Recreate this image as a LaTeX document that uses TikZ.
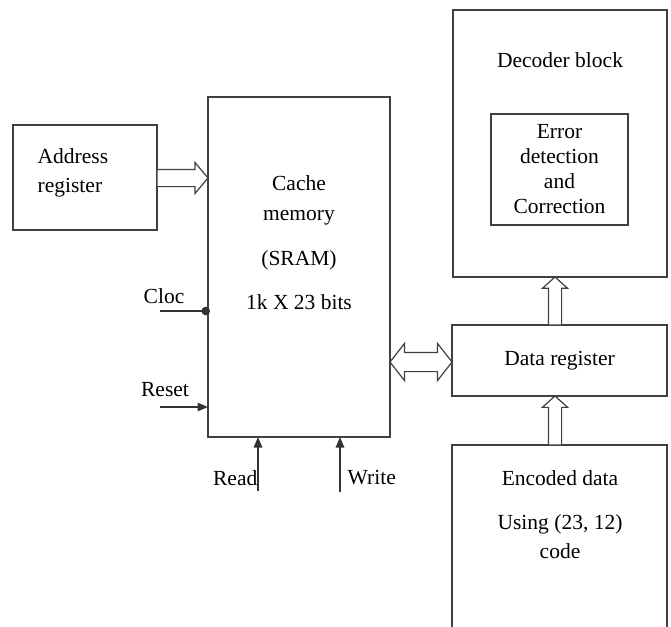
\documentclass[tikz,border=0pt]{standalone}
\usepackage{fontspec}
\setmainfont{Liberation Serif}
\usetikzlibrary{arrows.meta,positioning,shapes.arrows,calc}

\begin{document}
\begin{tikzpicture}[x=1pt,y=-1pt,line width=1.4pt,
    every node/.style={font=\fontsize{21.5}{25}\selectfont},
    blk/.style={draw=black!75, inner sep=0, outer sep=0},
    txt/.style={align=center, inner sep=0},
    hollow/.style={draw=black!75, line width=1.2pt, fill=white, outer sep=0},
    sig/.style={draw=black!80, -{Triangle[length=10.5pt,width=8.5pt]}}]
    \clip (0,0) rectangle (671,626);

    \node[blk, minimum width=144pt, minimum height=105pt] (addr) at (85,177.5) {};
    \node[blk, minimum width=182pt, minimum height=340pt] (cache) at (299,267) {};
    \node[blk, minimum width=214pt, minimum height=267pt] (dec) at (560,143.5) {};
    \node[blk, minimum width=137pt, minimum height=111pt, align=center] (err) at (559.5,169.5) {Error\\detection\\and\\Correction};
    \node[blk, minimum width=215pt, minimum height=71pt] (dreg) at (559.5,360.5) {Data register};
    \node[blk, minimum width=215pt, minimum height=220pt, anchor=north] (enc) at (559.5,445) {};

    \node[txt, align=left, anchor=west, font=\fontsize{21.5}{29}\selectfont] (addrtxt) at (37,172.5) {Address\\register};
    \node[txt, font=\fontsize{21.5}{30}\selectfont] (cachetxt) at (299,243) {Cache\\memory\\[15pt](SRAM)\\[14pt]1k X 23 bits};
    \node[txt] (dectxt) at (560,60) {Decoder block};
    \node[txt, font=\fontsize{21.5}{29}\selectfont] (enctxt) at (560,515) {Encoded data\\[15pt]Using (23, 12)\\code};
    \node[txt] (cloctxt) at (164,296) {Cloc};
    \node[txt] (resettxt) at (165,390) {Reset};
    \node[txt, anchor=east] (readtxt) at (258,478) {Read};
    \node[txt, anchor=west] (writetxt) at (347,478) {Write};

    \node[hollow, single arrow, inner sep=8pt, minimum height=51pt,
        single arrow head extend=7pt, single arrow tip angle=100, anchor=tip] (addrarr) at (cache.west |- 0,178) {};
    \node[hollow, double arrow, inner sep=9pt, minimum height=62pt,
        double arrow head extend=9pt, double arrow tip angle=104] (busarr) at ($(cache.east |- 0,362)!0.5!(dreg.west |- 0,362)$) {};
    \node[hollow, single arrow, inner sep=6pt, minimum height=48pt, shape border rotate=90,
        single arrow head extend=6pt, single arrow tip angle=96, anchor=tip] (decarr) at (555,277) {};
    \node[hollow, single arrow, inner sep=6pt, minimum height=49pt, shape border rotate=90,
        single arrow head extend=6pt, single arrow tip angle=96, anchor=tip] (encarr) at (555,396) {};

    \coordinate (clkin) at (160,311);
    \coordinate (rstin) at (160,407);
    \coordinate (rdin) at (258,491);
    \coordinate (wrin) at (340,492);

    \draw[draw=black!80, -{Circle[length=8.5pt]}, shorten >=-2pt] (clkin) -- (clkin -| cache.west);
    \draw[sig] (rstin) -- (rstin -| cache.west);
    \draw[sig] (rdin) -- (rdin |- cache.south);
    \draw[sig] (wrin) -- (wrin |- cache.south);
\end{tikzpicture}
\end{document}
